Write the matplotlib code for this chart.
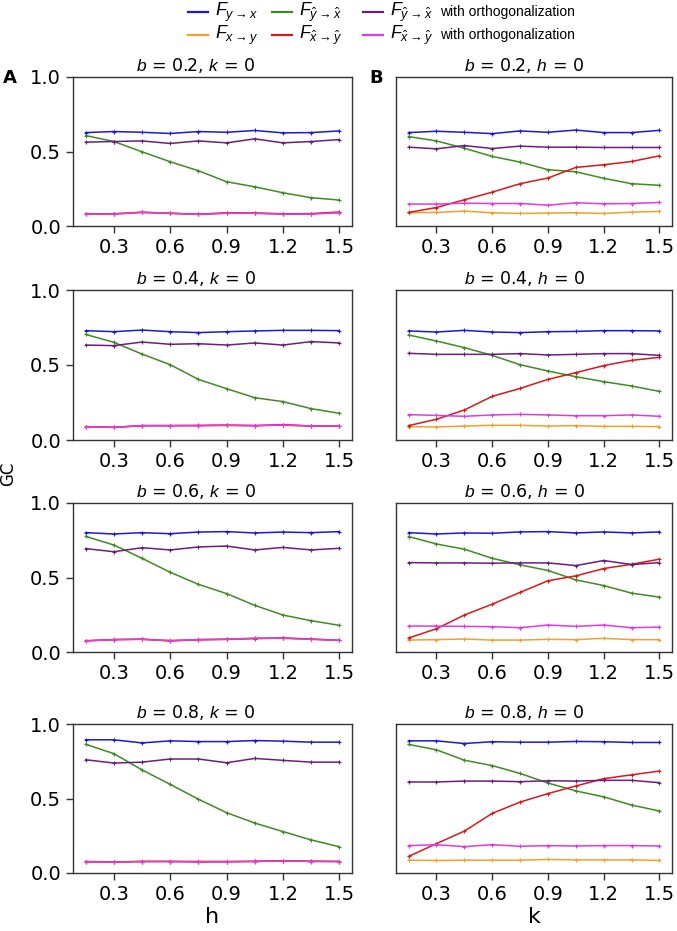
import matplotlib
matplotlib.use("Agg")
import matplotlib.pyplot as plt
from matplotlib.lines import Line2D
import numpy as np

plt.rcParams['mathtext.fontset'] = 'custom'
plt.rcParams['mathtext.rm'] = 'Liberation Sans'
plt.rcParams['mathtext.it'] = 'Liberation Sans:italic'

x = [0.15, 0.30, 0.45, 0.60, 0.75, 0.90, 1.05, 1.20, 1.35, 1.50]
xticks = [0.3, 0.6, 0.9, 1.2, 1.5]
yticks = [0.0, 0.5, 1.0]

titles_A = [r'$b$ = 0.2, $k$ = 0', r'$b$ = 0.4, $k$ = 0', r'$b$ = 0.6, $k$ = 0', r'$b$ = 0.8, $k$ = 0']
titles_B = [r'$b$ = 0.2, $h$ = 0', r'$b$ = 0.4, $h$ = 0', r'$b$ = 0.6, $h$ = 0', r'$b$ = 0.8, $h$ = 0']

# ---- Column A (vary h) ----
A_yx = [
    [0.627, 0.634, 0.629, 0.621, 0.634, 0.629, 0.641, 0.625, 0.627, 0.638],
    [0.729, 0.722, 0.733, 0.722, 0.716, 0.722, 0.727, 0.731, 0.731, 0.729],
    [0.801, 0.792, 0.801, 0.794, 0.805, 0.808, 0.799, 0.805, 0.801, 0.808],
    [0.894, 0.894, 0.873, 0.887, 0.882, 0.882, 0.889, 0.885, 0.878, 0.878],
]
A_xy = [
    [0.082, 0.083, 0.094, 0.086, 0.080, 0.087, 0.086, 0.081, 0.082, 0.090],
    [0.088, 0.085, 0.095, 0.095, 0.096, 0.097, 0.095, 0.099, 0.092, 0.092],
    [0.076, 0.084, 0.086, 0.078, 0.084, 0.086, 0.093, 0.093, 0.086, 0.079],
    [0.078, 0.075, 0.079, 0.079, 0.078, 0.078, 0.079, 0.083, 0.079, 0.078],
]
A_hyhx = [
    [0.607, 0.567, 0.498, 0.431, 0.371, 0.297, 0.263, 0.223, 0.190, 0.174],
    [0.704, 0.651, 0.573, 0.502, 0.404, 0.342, 0.282, 0.256, 0.209, 0.178],
    [0.776, 0.718, 0.629, 0.535, 0.454, 0.392, 0.313, 0.248, 0.210, 0.179],
    [0.864, 0.801, 0.692, 0.595, 0.495, 0.405, 0.335, 0.278, 0.222, 0.176],
]
A_hxhy = [
    [0.081, 0.081, 0.091, 0.085, 0.079, 0.088, 0.087, 0.082, 0.083, 0.094],
    [0.089, 0.084, 0.096, 0.096, 0.097, 0.099, 0.096, 0.102, 0.094, 0.093],
    [0.075, 0.083, 0.086, 0.074, 0.082, 0.085, 0.090, 0.094, 0.087, 0.078],
    [0.076, 0.073, 0.077, 0.077, 0.074, 0.075, 0.078, 0.082, 0.079, 0.077],
]
A_orth_yx = [
    [0.563, 0.567, 0.571, 0.554, 0.571, 0.558, 0.585, 0.558, 0.567, 0.580],
    [0.633, 0.629, 0.653, 0.638, 0.642, 0.633, 0.647, 0.633, 0.656, 0.647],
    [0.694, 0.673, 0.700, 0.685, 0.705, 0.711, 0.685, 0.702, 0.685, 0.696],
    [0.760, 0.738, 0.744, 0.765, 0.765, 0.740, 0.769, 0.756, 0.744, 0.744],
]
A_orth_xy = [
    [0.080, 0.080, 0.092, 0.085, 0.078, 0.085, 0.085, 0.080, 0.080, 0.089],
    [0.089, 0.084, 0.096, 0.096, 0.096, 0.098, 0.096, 0.100, 0.093, 0.093],
    [0.074, 0.083, 0.085, 0.076, 0.083, 0.085, 0.092, 0.092, 0.085, 0.078],
    [0.075, 0.072, 0.077, 0.077, 0.077, 0.077, 0.077, 0.081, 0.077, 0.077],
]

# ---- Column B (vary k) ----
B_yx = [
    [0.627, 0.636, 0.629, 0.620, 0.638, 0.629, 0.644, 0.627, 0.627, 0.642],
    [0.727, 0.720, 0.731, 0.720, 0.716, 0.722, 0.724, 0.729, 0.729, 0.727],
    [0.801, 0.792, 0.799, 0.797, 0.806, 0.808, 0.799, 0.806, 0.799, 0.806],
    [0.887, 0.887, 0.869, 0.881, 0.878, 0.878, 0.883, 0.881, 0.876, 0.876],
]
B_xy = [
    [0.089, 0.091, 0.100, 0.089, 0.084, 0.087, 0.089, 0.084, 0.093, 0.098],
    [0.089, 0.087, 0.093, 0.098, 0.098, 0.093, 0.096, 0.091, 0.091, 0.089],
    [0.080, 0.083, 0.087, 0.080, 0.080, 0.085, 0.083, 0.092, 0.083, 0.083],
    [0.086, 0.084, 0.086, 0.086, 0.086, 0.091, 0.088, 0.088, 0.088, 0.084],
]
B_hyhx = [
    [0.600, 0.571, 0.522, 0.467, 0.429, 0.378, 0.364, 0.320, 0.284, 0.273],
    [0.700, 0.660, 0.616, 0.564, 0.502, 0.460, 0.422, 0.389, 0.360, 0.324],
    [0.775, 0.725, 0.690, 0.629, 0.585, 0.547, 0.484, 0.446, 0.395, 0.368],
    [0.863, 0.827, 0.757, 0.721, 0.668, 0.604, 0.551, 0.511, 0.456, 0.416],
]
B_hxhy = [
    [0.091, 0.124, 0.176, 0.227, 0.284, 0.322, 0.393, 0.411, 0.433, 0.471],
    [0.096, 0.138, 0.200, 0.291, 0.344, 0.404, 0.449, 0.496, 0.531, 0.551],
    [0.094, 0.156, 0.248, 0.321, 0.400, 0.478, 0.511, 0.560, 0.589, 0.623],
    [0.111, 0.197, 0.281, 0.400, 0.476, 0.533, 0.584, 0.633, 0.659, 0.684],
]
B_orth_yx = [
    [0.529, 0.518, 0.540, 0.520, 0.536, 0.529, 0.529, 0.527, 0.527, 0.527],
    [0.578, 0.571, 0.571, 0.571, 0.576, 0.567, 0.571, 0.576, 0.576, 0.564],
    [0.600, 0.598, 0.598, 0.596, 0.598, 0.598, 0.580, 0.614, 0.587, 0.600],
    [0.611, 0.611, 0.617, 0.617, 0.613, 0.619, 0.617, 0.622, 0.622, 0.606],
]
B_orth_xy = [
    [0.147, 0.147, 0.153, 0.151, 0.151, 0.140, 0.156, 0.149, 0.151, 0.158],
    [0.169, 0.164, 0.158, 0.167, 0.171, 0.167, 0.162, 0.162, 0.167, 0.158],
    [0.174, 0.174, 0.172, 0.170, 0.163, 0.181, 0.172, 0.181, 0.163, 0.167],
    [0.184, 0.190, 0.177, 0.190, 0.179, 0.184, 0.181, 0.184, 0.184, 0.181],
]

labels = [r'$F_{y\rightarrow x}$', r'$F_{x\rightarrow y}$',
          r'$F_{\hat{y}\rightarrow \hat{x}}$', r'$F_{\hat{x}\rightarrow \hat{y}}$',
          r'$F_{\hat{y}\rightarrow \hat{x}}$', r'$F_{\hat{x}\rightarrow \hat{y}}$']
label_suffix = ['', '', '', '', 'with orthogonalization', 'with orthogonalization']
colors = ['#1a1ad6', '#f0a030', '#3f8a25', '#d41a1a', '#6b1f7d', '#e03ae0']

W, H = 677, 931
fig = plt.figure(figsize=(W / 100, H / 100), dpi=100)

rows_px = [(77, 226), (290, 440), (503, 652), (724, 873)]
cols_px = [(73, 352), (396, 672)]
title_x = [0.44, 0.465]

spine_col = '#333333'
for c in range(2):
    for r in range(4):
        x0, x1 = cols_px[c]
        t, b = rows_px[r]
        ax = fig.add_axes([x0 / W, 1 - b / H, (x1 - x0) / W, (b - t) / H])
        if c == 0:
            series = [A_yx[r], A_xy[r], A_hyhx[r], A_hxhy[r], A_orth_yx[r], A_orth_xy[r]]
            title = titles_A[r]
        else:
            series = [B_yx[r], B_xy[r], B_hyhx[r], B_hxhy[r], B_orth_yx[r], B_orth_xy[r]]
            title = titles_B[r]
        for s, col in zip(series, colors):
            ax.plot(x, s, color=col, lw=1.1, marker='+', ms=3, mew=0.8)
        ax.set_ylim(0, 1)
        ax.set_xticks(xticks)
        ax.set_xticklabels([f'{v:.1f}' for v in xticks])
        ax.set_yticks(yticks)
        ax.set_yticklabels([f'{v:.1f}' for v in yticks])
        ax.tick_params(axis='both', direction='out', length=5, width=1,
                       labelsize=14, color=spine_col, top=False, right=False)
        if c == 1:
            ax.tick_params(axis='y', left=False, labelleft=False)
        for sp in ax.spines.values():
            sp.set_color(spine_col)
            sp.set_linewidth(1.0)
        ax.set_title(title, fontsize=12.5, pad=4, x=title_x[c])
        if r == 3:
            ax.set_xlabel('h' if c == 0 else 'k', fontsize=16, labelpad=2)

fig.text(10 / W, 1 - 78 / H, 'A', fontsize=13, fontweight='bold', ha='center', va='center')
fig.text(376 / W, 1 - 78 / H, 'B', fontsize=13, fontweight='bold', ha='center', va='center')
fig.text(8 / W, 1 - 474 / H, 'GC', fontsize=12, rotation=90, ha='center', va='center')

# legend (figure level, drawn manually)
leg_cols = [(188, 208, 215), (272, 292, 299), (363, 383, 390)]
leg_rows = [12, 35]
fig.canvas.draw()
renderer = fig.canvas.get_renderer()
for i in range(6):
    ci, ri = i // 2, i % 2
    lx0, lx1, tx = leg_cols[ci]
    yy = 1 - leg_rows[ri] / H
    fig.add_artist(Line2D([lx0 / W, lx1 / W], [yy, yy], color=colors[i], lw=1.6,
                          transform=fig.transFigure))
    t = fig.text(tx / W, yy, labels[i], fontsize=13, ha='left', va='center')
    if label_suffix[i]:
        bb = t.get_window_extent(renderer=renderer)
        fig.text(bb.x1 / W + 7 / W, yy, label_suffix[i], fontsize=10,
                 family='Liberation Sans', ha='left', va='center')

fig.savefig('out.png', dpi=100)
